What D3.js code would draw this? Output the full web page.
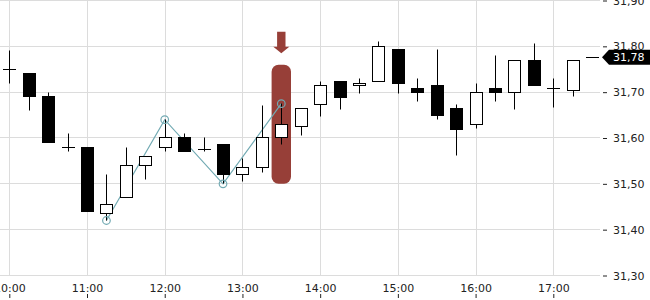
<!DOCTYPE html>
<html>
<head>
<meta charset="utf-8">
<script src="https://cdn.jsdelivr.net/npm/d3@7"></script>
<style>
  body { margin: 0; background: #fff; }
  text { font-family: "DejaVu Sans", sans-serif; font-size: 11px; fill: #222; }
</style>
</head>
<body>
<div id="chart"></div>
<script>
// Candle data (15 min bars)
var times = ["10:00","10:15","10:30","10:45","11:00","11:15","11:30","11:45",
             "12:00","12:15","12:30","12:45","13:00","13:15","13:30","13:45",
             "14:00","14:15","14:30","14:45","15:00","15:15","15:30","15:45",
             "16:00","16:15","16:30","16:45","17:00","17:15","17:30"];
var opens  = [31.75, 31.74, 31.69, 31.58, 31.58, 31.435, 31.47, 31.54,
              31.58, 31.60, 31.575, 31.585, 31.52, 31.535, 31.60, 31.625,
              31.673, 31.724, 31.714, 31.724, 31.794, 31.708, 31.715, 31.665,
              31.63, 31.708, 31.70, 31.769, 31.708, 31.704, 31.775];
var highs  = [31.79, 31.74, 31.70, 31.61, 31.58, 31.52, 31.58, 31.56,
              31.64, 31.61, 31.60, 31.585, 31.555, 31.67, 31.675, 31.665,
              31.724, 31.724, 31.73, 31.81, 31.794, 31.73, 31.794, 31.673,
              31.72, 31.779, 31.77, 31.806, 31.73, 31.769, 31.775];
var lows   = [31.72, 31.66, 31.59, 31.57, 31.44, 31.42, 31.47, 31.51,
              31.57, 31.57, 31.57, 31.50, 31.505, 31.525, 31.585, 31.605,
              31.646, 31.662, 31.697, 31.724, 31.697, 31.68, 31.64, 31.561,
              31.62, 31.68, 31.662, 31.714, 31.666, 31.69, 31.775];
var closes = [31.75, 31.69, 31.59, 31.58, 31.44, 31.455, 31.54, 31.56,
              31.60, 31.57, 31.575, 31.52, 31.535, 31.60, 31.63, 31.665,
              31.715, 31.688, 31.719, 31.80, 31.718, 31.70, 31.648, 31.618,
              31.70, 31.70, 31.769, 31.714, 31.708, 31.769, 31.775];

// zigzag overlay
var zigTimes = ["11:15","12:00","12:45","13:30"];
var zigValues = [31.42, 31.64, 31.50, 31.675];

// highlighted bar
var markTime = "13:30";
var markRange = [31.50, 31.76];

var lastPrice = 31.776;
var yTicks = [31.30, 31.40, 31.50, 31.60, 31.70, 31.80, 31.90];

// Chart Params
var svgWidth = 650;
var svgHeight = 300;
var plotRight = 600;
var plotBottom = 275.5;

var parseTime = d3.timeParse("%H:%M");
var locale = d3.formatLocale({ decimal: ",", thousands: ".", grouping: [3], currency: ["", ""] });
var fmt = locale.format(".2f");

var data = times.map(function(t, i) {
  return { date: parseTime(t), open: opens[i], high: highs[i], low: lows[i], close: closes[i] };
});

var svg = d3.select("#chart")
  .append("svg")
  .attr("width", svgWidth)
  .attr("height", svgHeight);

// scales
var x = d3.scaleTime()
  .domain([parseTime("10:00"), parseTime("17:00")])
  .range([9.3, 553.3]);

var y = d3.scaleLinear()
  .domain([31.3, 31.9])
  .range([plotBottom, 0.5]);

var px = function(d) { return Math.round(x(d)) + 0.5; };
var py = function(v) { return Math.round(y(v) - 0.5) + 0.5; };

var hourTicks = x.ticks(d3.timeHour.every(1));

// gridlines
var grid = svg.append("g").attr("stroke", "#dcdcdc").attr("stroke-width", 1);
grid.selectAll(".h")
  .data(yTicks)
  .enter()
  .append("line")
  .attr("x1", 0).attr("x2", plotRight)
  .attr("y1", d => py(d)).attr("y2", d => py(d));
grid.selectAll(".v")
  .data(hourTicks)
  .enter()
  .append("line")
  .attr("x1", d => px(d)).attr("x2", d => px(d))
  .attr("y1", 0).attr("y2", plotBottom);

// right axis
var rightAxis = d3.axisRight(y).tickValues(yTicks).tickSize(4).tickPadding(6).tickFormat(fmt);
var ra = svg.append("g")
  .attr("transform", `translate(603, 0)`)
  .call(rightAxis);
ra.select(".domain").remove();
ra.selectAll("line").attr("stroke", "#222");
ra.selectAll("text").attr("fill", "#222").style("font-size", "11px");

// bottom axis (labels above the tick marks)
var bottomAxis = d3.axisTop(x).ticks(d3.timeHour.every(1)).tickSize(4).tickPadding(2)
  .tickFormat(d3.timeFormat("%H:%M"));
var ba = svg.append("g")
  .attr("transform", `translate(0, 298)`)
  .call(bottomAxis);
ba.select(".domain").remove();
ba.selectAll("line").attr("stroke", "#222");
ba.selectAll("text").attr("fill", "#222").style("font-size", "11px");

// highlight behind the marked bar
var markDate = parseTime(markTime);
svg.append("rect")
  .attr("x", x(markDate) - 9.7)
  .attr("y", y(markRange[1]))
  .attr("width", 19.4)
  .attr("height", y(markRange[0]) - y(markRange[1]))
  .attr("rx", 7).attr("ry", 7)
  .attr("fill", "#973f38");

// arrow above it
var ax = x(markDate);
var aTop = y(markRange[1]) - 33;
svg.append("path")
  .attr("d", `M${ax - 4.2},${aTop} L${ax + 4.2},${aTop} L${ax + 4.2},${aTop + 15} L${ax + 8},${aTop + 15}
              L${ax},${aTop + 21.5} L${ax - 8},${aTop + 15} L${ax - 4.2},${aTop + 15} Z`)
  .attr("fill", "#973f38");

// zigzag line
var zig = zigTimes.map((t, i) => ({ date: parseTime(t), value: zigValues[i] }));
var zigLine = d3.line().x(d => x(d.date)).y(d => y(d.value));
svg.append("path")
  .datum(zig)
  .attr("d", zigLine)
  .attr("fill", "none")
  .attr("stroke", "#72aab3")
  .attr("stroke-width", 1.2);

// candles
var bw = 12;
var candles = svg.selectAll(".candle")
  .data(data)
  .enter()
  .append("g")
  .attr("class", "candle");

candles.filter(d => d.high > d.low)
  .append("line")
  .attr("x1", d => px(d.date)).attr("x2", d => px(d.date))
  .attr("y1", d => py(d.high)).attr("y2", d => py(d.low))
  .attr("stroke", "#000")
  .attr("stroke-width", 1);

candles.filter(d => Math.abs(d.close - d.open) > 0.0001)
  .append("rect")
  .attr("x", d => Math.round(x(d.date) - bw / 2) + 0.5)
  .attr("y", d => py(Math.max(d.open, d.close)))
  .attr("width", bw)
  .attr("height", d => Math.max(1, py(Math.min(d.open, d.close)) - py(Math.max(d.open, d.close))))
  .attr("fill", d => d.close > d.open ? "#fff" : "#000")
  .attr("stroke", "#000")
  .attr("stroke-width", 1);

candles.filter(d => Math.abs(d.close - d.open) <= 0.0001)
  .append("line")
  .attr("x1", d => Math.round(x(d.date) - bw / 2))
  .attr("x2", d => Math.round(x(d.date) + bw / 2) + 1)
  .attr("y1", d => py(d.open)).attr("y2", d => py(d.open))
  .attr("stroke", "#000")
  .attr("stroke-width", 1);

// zigzag points
svg.selectAll(".zig")
  .data(zig)
  .enter()
  .append("circle")
  .attr("cx", d => x(d.date))
  .attr("cy", d => y(d.value))
  .attr("r", 3.8)
  .attr("fill", "none")
  .attr("stroke", "#72aab3")
  .attr("stroke-width", 1.2);

// last price tag
var ly = y(lastPrice);
svg.append("path")
  .attr("d", `M602,${ly} L609,${ly - 7.5} L650,${ly - 7.5} L650,${ly + 7.5} L609,${ly + 7.5} Z`)
  .attr("fill", "#000");
svg.append("text")
  .attr("x", 613)
  .attr("y", ly)
  .attr("dy", "0.36em")
  .style("fill", "#fff")
  .text(fmt(lastPrice));
</script>
</body>
</html>
